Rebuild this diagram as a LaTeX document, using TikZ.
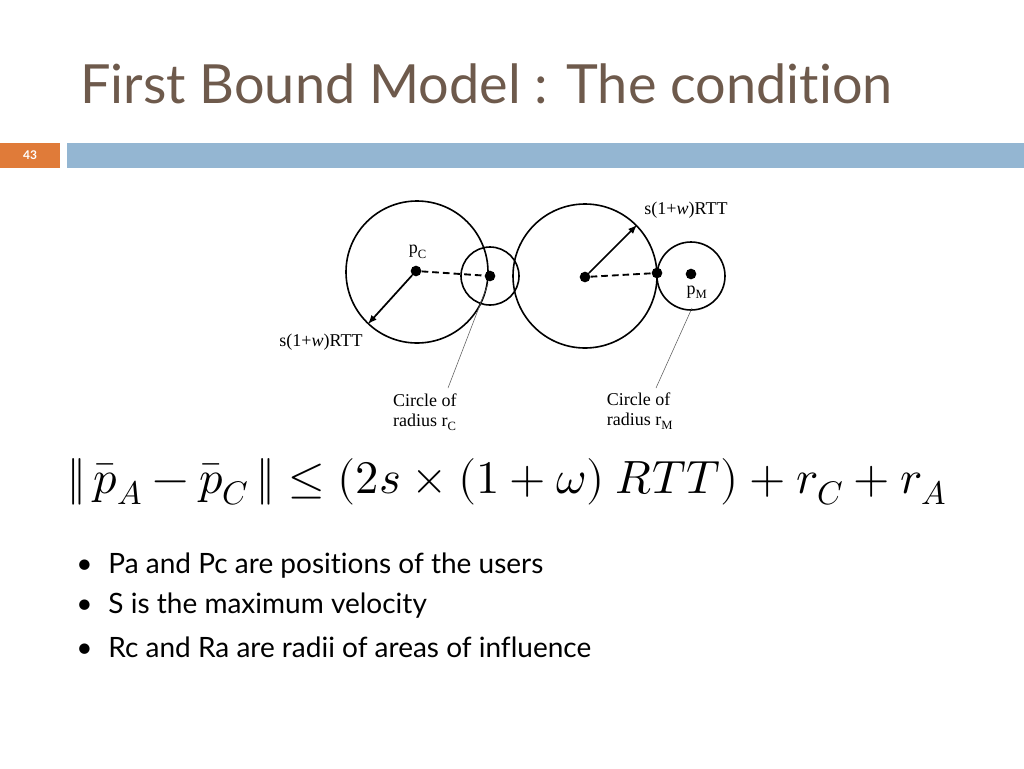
\documentclass[tikz,border=0pt]{standalone}
\usepackage{fontspec}
\setsansfont[Ligatures=NoCommon]{Lato}
\setmainfont{Liberation Serif}
\usepackage{unicode-math}
\setmathfont{Latin Modern Math}
\definecolor{titlec}{HTML}{6E5A4C}
\definecolor{orangec}{HTML}{E07B39}
\definecolor{bluec}{HTML}{94B6D2}
\begin{document}
\begin{tikzpicture}[x=0.75pt,y=-0.75pt,
  circ/.style={draw,line width=1.2pt},
  dot/.style={circle,fill,inner sep=0pt,minimum size=8pt},
  lab/.style={font=\fontsize{13.5}{15}\selectfont\rmfamily,inner sep=1pt},
  lead/.style={draw,line width=0.4pt,gray!70!black},
  bul/.style={font=\fontsize{21}{24}\selectfont\sffamily,anchor=west,inner sep=0pt}]
\useasboundingbox (0,0) rectangle (1024,768);
\node[anchor=base west,inner sep=0pt,text=titlec,font=\fontsize{40.5}{44}\selectfont\sffamily] (title) at (80,103) {First Bound Model : The condition};
\fill[orangec] (0,143) rectangle (60,168);
\node[text=white,font=\fontsize{9}{10}\selectfont\sffamily\bfseries] (num) at (30,155) {43};
\fill[bluec] (67,143) rectangle (1024,168);
% circles
\draw[circ] (417,272) circle (71);
\draw[circ] (490,276) circle (29);
\draw[circ] (585,276) circle (72);
\draw[circ] (691,276) circle (34);
\node[dot] (pc) at (416,271) {};
\node[dot] (c1) at (490,276) {};
\node[dot] (pa) at (585,277) {};
\node[dot] (c2) at (657,273) {};
\node[dot] (pm) at (691,274) {};
\coordinate (a1) at (368,324);
\coordinate (a2) at (637,225);
\draw[line width=1.4pt,dash pattern=on 5pt off 3pt] (pc) -- (c1);
\draw[line width=1.4pt,dash pattern=on 5pt off 3pt] (pa) -- (c2);
\draw[line width=1.3pt,-latex] (pc) -- (a1);
\draw[line width=1.3pt,-latex] (pa) -- (a2);
\node[lab] (lpc) at (418,252) {p\textsubscript{C}};
\node[lab] (lpm) at (697,292) {p\textsubscript{M}};
\node[lab] (s1) at (686,210) {s(1+\textit{w})RTT};
\node[lab] (s2) at (321,342) {s(1+\textit{w})RTT};
\coordinate (l1a) at (488,284); \coordinate (l1b) at (448,388);
\coordinate (l2a) at (692,308); \coordinate (l2b) at (656,388);
\draw[lead] (l1a) -- (l1b);
\draw[lead] (l2a) -- (l2b);
\node[lab,align=left] (t1) at (425,412) {Circle of\\radius r\textsubscript{C}};
\node[lab,align=left] (t2) at (640,411) {Circle of\\radius r\textsubscript{M}};
% formula
\node[inner sep=0pt,font=\fontsize{35}{37}\selectfont] (f) at (507,482)
 {$\Vert\,\bar p_A-\bar p_C\,\Vert\leq(2s\times(1+\omega)\ RTT)+r_C+r_A$};
% bullets
\node[bul] (b1) at (76,566) {•\hspace{12pt}Pa and Pc are positions of the users};
\node[bul] (b2) at (76,606) {•\hspace{12pt}S is the maximum velocity};
\node[bul] (b3) at (76,647) {•\hspace{12pt}Rc and Ra are radii of areas of influence};
\end{tikzpicture}
\end{document}
